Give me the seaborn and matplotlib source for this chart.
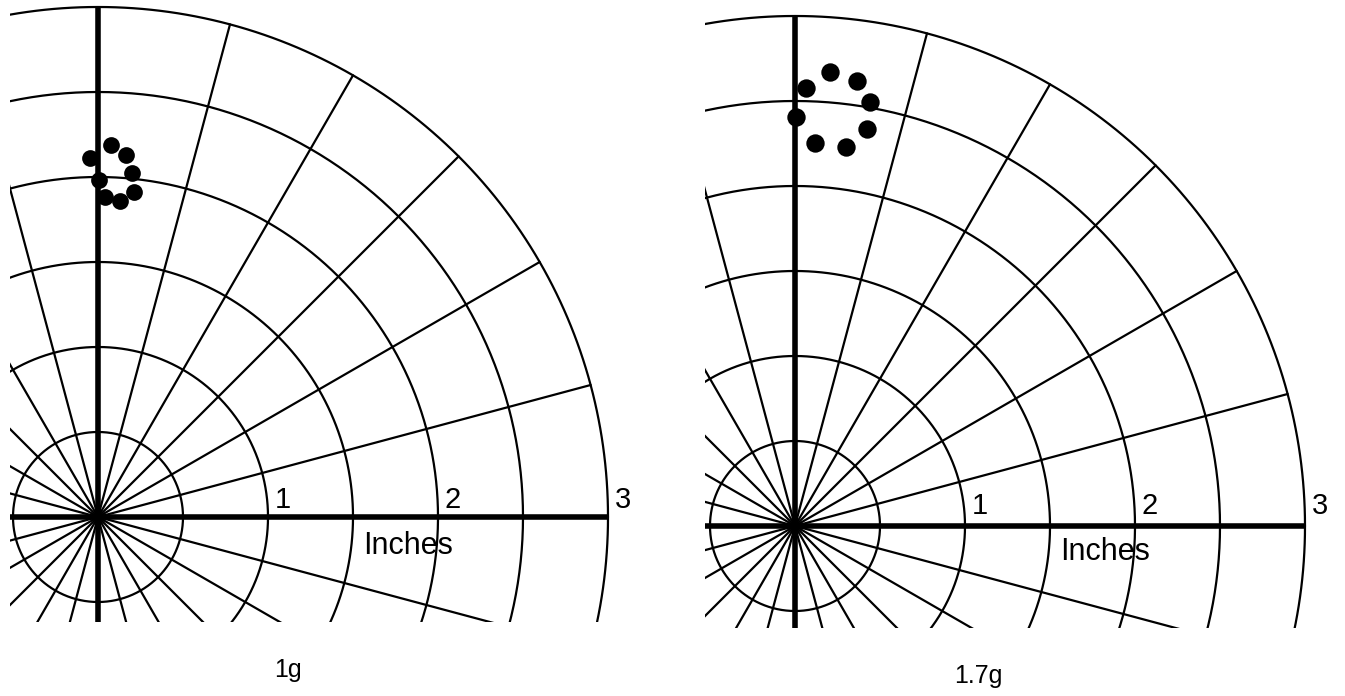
import numpy as np
import pandas as pd
import seaborn as sns
import matplotlib.pyplot as plt

# grid: rings every half inch, spokes every 15 degrees
ring_radii = [0.5, 1.0, 1.5, 2.0, 2.5, 3.0]
spoke_angles = list(range(0, 360, 15))
scale_ticks = [1, 2, 3]

# impact points (inches from centre)
x_1g = [0.079, -0.047, 0.164, 0.199, 0.004, 0.210, 0.040, 0.129]
y_1g = [2.188, 2.110, 2.129, 2.022, 1.982, 1.914, 1.881, 1.859]
x_17g = [0.006, 0.062, 0.208, 0.362, 0.439, 0.424, 0.302, 0.115]
y_17g = [2.408, 2.578, 2.669, 2.619, 2.496, 2.335, 2.231, 2.251]

captions = ["1g", "1.7g"]

W, H = 1345, 696
PX = 170.0  # pixels per inch on the target


def pixel_axes(fig, left, right, top, bottom, cx, cy):
    ax = fig.add_axes([left / W, 1 - bottom / H, (right - left) / W, (bottom - top) / H])
    ax.set_xlim(-(cx - left) / PX, (right - cx) / PX)
    ax.set_ylim(-(bottom - cy) / PX, (cy - top) / PX)
    ax.set_axis_off()
    return ax


def draw_target(ax, xs, ys, dot_size, tick_y, inches_y):
    t = np.linspace(0, 2 * np.pi, 721)
    for r in ring_radii:
        ax.plot(r * np.cos(t), r * np.sin(t), color="black", lw=1.6)
    for a in spoke_angles:
        if a in (0, 90, 180, 270):
            continue
        th = np.deg2rad(a)
        ax.plot([0, 3 * np.cos(th)], [0, 3 * np.sin(th)], color="black", lw=1.6)
    # heavy axes
    ax.plot([-1, 3], [0, 0], color="black", lw=4, solid_capstyle="butt")
    ax.plot([0, 0], [-1, 3], color="black", lw=4, solid_capstyle="butt")

    for k in scale_ticks:
        ax.text(k + 0.04, tick_y, str(k), fontsize=21, ha="left", va="baseline",
                color="black", clip_on=False)
    ax.text(1.56, inches_y, "Inches", fontsize=22, ha="left", va="baseline",
            color="black", clip_on=False)

    pts = pd.DataFrame({"x": xs, "y": ys})
    sns.scatterplot(data=pts, x="x", y="y", ax=ax, color="black", s=dot_size,
                    linewidth=0, zorder=5, legend=False)
    ax.set_axis_off()


sns.set_style("white")
plt.rcParams["font.family"] = ["Liberation Sans", "DejaVu Sans"]
plt.rcParams["text.color"] = "black"

fig = plt.figure(figsize=(W / 100, H / 100), dpi=100)

ax1 = pixel_axes(fig, 10, 680, 0, 622, 98, 517)
draw_target(ax1, x_1g, y_1g, 145, 0.055, -0.215)

ax2 = pixel_axes(fig, 705, 1345, 0, 628, 795, 526)
draw_target(ax2, x_17g, y_17g, 175, 0.07, -0.2)

fig.text(288 / W, 1 - 677 / H, captions[0], fontsize=18, ha="center", va="baseline",
         color="black")
fig.text(978 / W, 1 - 683 / H, captions[1], fontsize=18, ha="center", va="baseline",
         color="black")

plt.savefig("out.png", dpi=100)
